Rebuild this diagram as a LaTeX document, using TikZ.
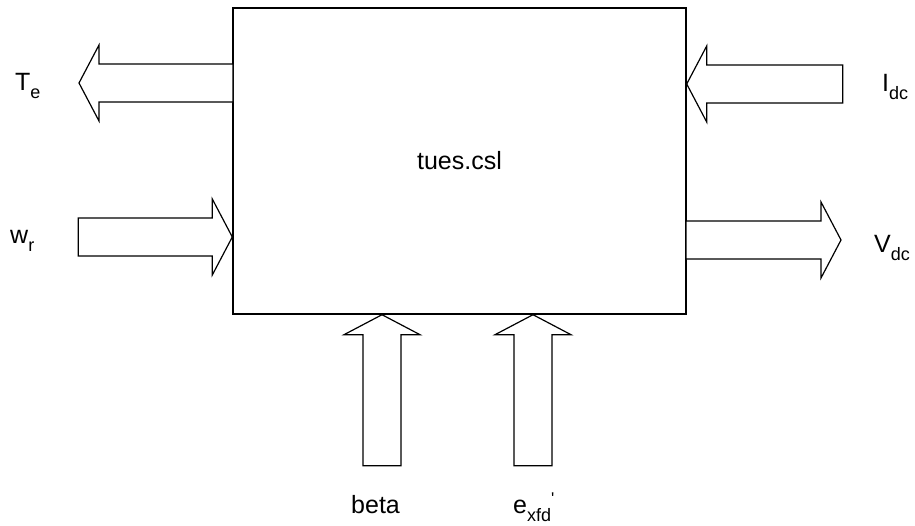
\documentclass[tikz,border=0pt]{standalone}
\usepackage{fontspec}
\setmainfont{Liberation Sans}
\newcommand{\sbs}[1]{\raisebox{-8.5pt}{\fontsize{18}{18}\selectfont #1}}
\tikzset{
  blockarrow/.style={draw, line width=1.2pt, line join=miter, fill=white},
  lbl/.style={font=\fontsize{25}{30}\selectfont, inner sep=0pt, anchor=base west},
}
% tip, angle, length
\newcommand{\bigarrow}[3]{%
  \begin{scope}[shift={(#1)}, rotate=#2]
    \draw[blockarrow] (0,0) -- (-20pt,38pt) -- (-20pt,19pt) -- (-#3,19pt)
      -- (-#3,-19pt) -- (-20pt,-19pt) -- (-20pt,-38pt) -- cycle;
  \end{scope}}
\begin{document}
\begin{tikzpicture}
  \useasboundingbox (0,0) rectangle (915pt,-525pt);
  \node[draw, line width=1.4pt, minimum width=453pt, minimum height=306pt, inner sep=0pt,
    font=\fontsize{25}{30}\selectfont] (csl) at (459.5pt,-161pt) {tues.csl};
  \coordinate (te tip) at (79pt,-83pt);
  \coordinate (wr tip) at (csl.west |- 0,-237pt);
  \coordinate (idc tip) at (csl.east |- 0,-84pt);
  \coordinate (vdc tip) at (841pt,-240pt);
  \coordinate (beta tip) at (382pt,0 |- csl.south);
  \coordinate (exfd tip) at (533pt,0 |- csl.south);
  \bigarrow{te tip}{180}{154pt}
  \bigarrow{wr tip}{0}{154pt}
  \bigarrow{idc tip}{180}{156pt}
  \bigarrow{vdc tip}{0}{155pt}
  \bigarrow{beta tip}{90}{151pt}
  \bigarrow{exfd tip}{90}{151pt}
  \node[lbl] (te) at (15pt,-90pt) {T\sbs{e}};
  \node[lbl] (wr) at (10pt,-243pt) {w\sbs{r}};
  \node[lbl] (idc) at (882pt,-91pt) {I\sbs{dc}};
  \node[lbl] (vdc) at (874pt,-252pt) {V\sbs{dc}};
  \node[lbl] (beta) at (351pt,-513pt) {beta};
  \node[lbl] (exfd) at (513pt,-513pt)
    {e\sbs{xfd}\raisebox{9pt}{\fontsize{17}{17}\selectfont\textquotesingle}};
\end{tikzpicture}
\end{document}
